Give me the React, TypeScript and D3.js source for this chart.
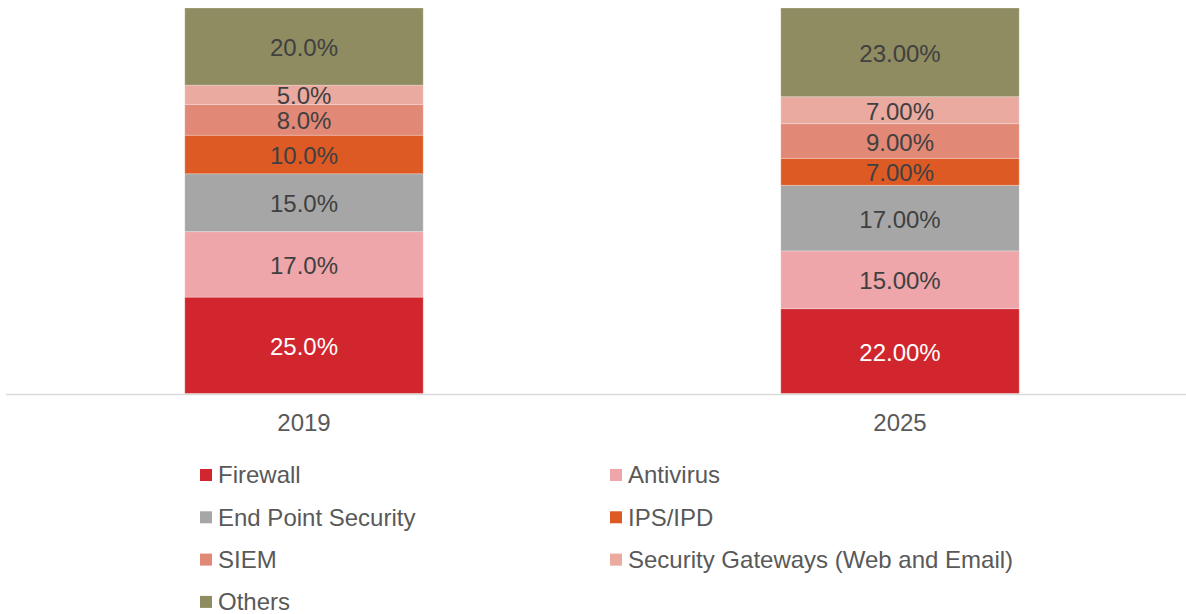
import React, { useEffect, useRef } from "react";
import * as d3 from "d3";

const years = ["2019", "2025"];
const segments = [
    "Firewall",
    "Antivirus",
    "End Point Security",
    "IPS/IPD",
    "SIEM",
    "Security Gateways (Web and Email)",
    "Others",
];
const colors = ["#d1262d", "#eea6aa", "#a6a6a6", "#dd5a25", "#e28877", "#eaaaa0", "#8e8c60"];
const values2019 = [25, 17, 15, 10, 8, 5, 20];
const values2025 = [22, 15, 17, 7, 9, 7, 23];
const labels2019 = ["25.0%", "17.0%", "15.0%", "10.0%", "8.0%", "5.0%", "20.0%"];
const labels2025 = ["22.00%", "15.00%", "17.00%", "7.00%", "9.00%", "7.00%", "23.00%"];

const width = 1186;
const height = 614;

const App: React.FC = () => {
    const svgRef = useRef<SVGSVGElement>(null);

    useEffect(() => {
        if (!svgRef.current) return;
        const svg = d3.select(svgRef.current);
        svg.selectAll("*").remove();

        const font = "'Liberation Sans', Arial, sans-serif";
        const fontSize = 24;

        const rows = years.map((yr, i) => {
            const vals = i === 0 ? values2019 : values2025;
            const o: any = { year: yr };
            segments.forEach((s, j) => (o[s] = vals[j]));
            return o;
        });
        const labelsByYear: Record<string, string[]> = { "2019": labels2019, "2025": labels2025 };

        const stack = d3.stack<any>().keys(segments)(rows);

        const x = d3.scaleBand()
            .domain(years)
            .range([6, 1198])
            .paddingInner(0.6)
            .paddingOuter(0.3);

        const y = d3.scaleLinear().domain([0, 100]).range([393.5, 8]);

        // bars
        const layer = svg.append("g")
            .selectAll("g")
            .data(stack)
            .join("g")
            .attr("fill", (_, i) => colors[i]);

        layer.selectAll("rect")
            .data((d) => d.map((p) => ({ p, key: d.key })))
            .join("rect")
            .attr("x", (d) => x(d.p.data.year)!)
            .attr("width", x.bandwidth())
            .attr("y", (d) => y(d.p[1]))
            .attr("height", (d) => y(d.p[0]) - y(d.p[1]))
            .attr("stroke", "#fff")
            .attr("stroke-opacity", 0.25)
            .attr("stroke-width", 1);

        // data labels
        stack.forEach((series, si) => {
            series.forEach((p) => {
                const yr = p.data.year as string;
                svg.append("text")
                    .attr("x", x(yr)! + x.bandwidth() / 2)
                    .attr("y", (y(p[0]) + y(p[1])) / 2)
                    .attr("dy", "0.4em")
                    .attr("text-anchor", "middle")
                    .attr("font-family", font)
                    .attr("font-size", fontSize)
                    .attr("fill", si === 0 ? "#ffffff" : "#404040")
                    .text(labelsByYear[yr][si]);
            });
        });

        // x axis
        const xAxis = svg.append("g")
            .attr("transform", `translate(0,${y(0) + 1})`)
            .call(d3.axisBottom(x).tickSize(0).tickPadding(19));
        xAxis.select(".domain")
            .attr("d", `M6,0H${width}`)
            .attr("stroke", "#d9d9d9")
            .attr("stroke-width", 1.5);
        xAxis.selectAll(".tick text")
            .attr("font-family", font)
            .attr("font-size", fontSize)
            .attr("fill", "#595959");

        // legend
        const legend = svg.append("g");
        segments.forEach((s, i) => {
            const col = i % 2;
            const row = Math.floor(i / 2);
            const gx = col === 0 ? 200 : 610;
            const gy = 475 + row * 42.3;
            const g = legend.append("g").attr("transform", `translate(${gx},${gy})`);
            g.append("rect")
                .attr("x", 0)
                .attr("y", -6)
                .attr("width", 12)
                .attr("height", 12)
                .attr("fill", colors[i]);
            g.append("text")
                .attr("x", 18)
                .attr("y", 0)
                .attr("dy", "0.35em")
                .attr("font-family", font)
                .attr("font-size", fontSize)
                .attr("fill", "#595959")
                .text(s);
        });
    }, []);

    return (
        <svg
            ref={svgRef}
            width={width}
            height={height}
            style={{ position: "absolute", left: 0, top: 0, background: "#fff" }}
        />
    );
};

export default App;
